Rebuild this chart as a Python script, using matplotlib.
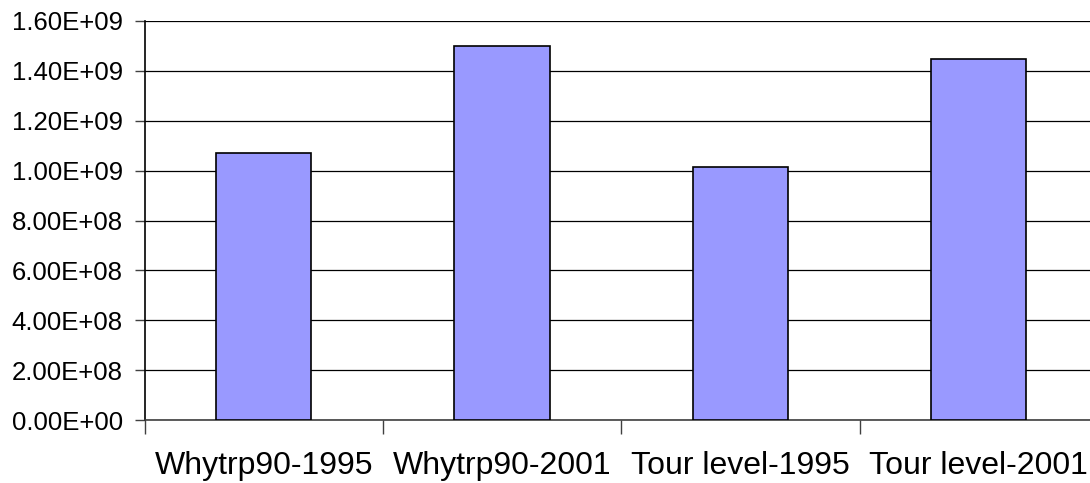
import matplotlib
matplotlib.use("Agg")
import matplotlib.pyplot as plt
from matplotlib.ticker import FixedLocator, FuncFormatter

categories = ["Whytrp90-1995", "Whytrp90-2001", "Tour level-1995", "Tour level-2001"]
values = [1.07e9, 1.50e9, 1.015e9, 1.447e9]
y_ticks = [0, 2e8, 4e8, 6e8, 8e8, 1.0e9, 1.2e9, 1.4e9, 1.6e9]

plt.rcParams['font.family'] = ['Liberation Sans', 'DejaVu Sans']

fig = plt.figure(figsize=(10.9, 4.83), dpi=100)
ax = fig.add_axes([144.5/1090, 63/483, (1098-144.5)/1090, (420-21)/483])

x = list(range(len(categories)))
ax.bar(x, values, width=0.4, color='#9999FF', edgecolor='black', linewidth=1.2, zorder=3)

ax.set_xlim(-0.5, len(categories) - 0.5)
ax.set_ylim(0, 1.6e9)
ax.set_yticks(y_ticks)
ax.yaxis.set_major_formatter(FuncFormatter(lambda v, p: f"{v:.2E}"))
ax.grid(axis='y', color='#000000', linewidth=0.9, zorder=0)
ax.set_axisbelow(True)

ax.set_xticks(x)
ax.set_xticklabels(categories)
ax.xaxis.set_minor_locator(FixedLocator([i - 0.5 for i in range(len(categories) + 1)]))
ax.tick_params(axis='x', which='major', length=0, pad=22, labelsize=23)
ax.tick_params(axis='x', which='minor', length=10, width=1, color='#404040', direction='out')
ax.tick_params(axis='y', length=7, width=1, color='#404040', direction='out', pad=8.5, labelsize=18.5)

for s in ['top', 'right']:
    ax.spines[s].set_visible(False)
ax.spines['left'].set_color('black')
ax.spines['left'].set_linewidth(1.2)
ax.spines['bottom'].set_color('#404040')
ax.spines['bottom'].set_linewidth(1.2)

fig.savefig("out.png", dpi=100)
